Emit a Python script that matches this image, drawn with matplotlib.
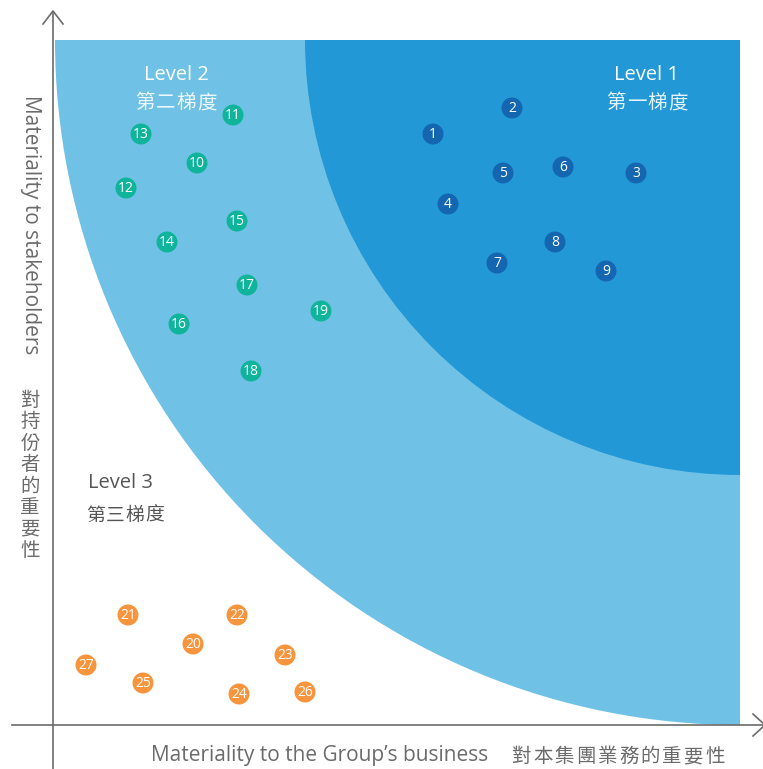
import matplotlib.pyplot as plt
from matplotlib.patches import Wedge, Circle

plt.rcParams['font.family'] = ['Open Sans', 'Noto Sans CJK TC', 'DejaVu Sans']

# issue positions (x = materiality to business, y = materiality to stakeholders)
level1_ids = [1, 2, 3, 4, 5, 6, 7, 8, 9]
level1_x = [380, 459, 583, 395, 450, 510, 444, 502, 553]
level1_y = [591, 617, 552, 521, 552, 558, 462, 483, 454]

level2_ids = [10, 11, 12, 13, 14, 15, 16, 17, 18, 19]
level2_x = [144, 180, 73, 88, 114, 184, 126, 194, 198, 268]
level2_y = [562, 610, 537, 591, 483, 504, 401, 440, 354, 414]

level3_ids = [20, 21, 22, 23, 24, 25, 26, 27]
level3_x = [140, 75, 184, 232, 186, 90, 252, 33]
level3_y = [81, 110, 110, 70, 31, 42, 33, 60]

grey = '#6b6b6b'
fig = plt.figure(figsize=(7.63, 7.69), dpi=100)
ax = fig.add_axes([0, 0, 1, 1])
ax.set_xlim(-53, 710)
ax.set_ylim(-44, 725)
ax.axis('off')

# zones as quarter discs around the top-right corner
corner = (687, 685)
ax.add_patch(Wedge(corner, 685, 180, 270, color='#6fc2e5', lw=0, zorder=1))
ax.add_patch(Wedge(corner, 435, 180, 270, color='#2299d6', lw=0, zorder=2))

# axes with open arrow heads
ax.plot([0, 0], [-44, 713], color=grey, lw=1.2, zorder=3)
ax.plot([-41, 711], [0, 0], color=grey, lw=1.2, zorder=3)
ax.plot([-10, 0, 10], [701, 714, 701], color=grey, lw=1.2, zorder=3)
ax.plot([700, 712, 700], [11, 0, -11], color=grey, lw=1.2, zorder=3, clip_on=False)


def draw_points(xs, ys, ids, color):
    for x, y, n in zip(xs, ys, ids):
        ax.add_patch(Circle((x, y), 10.5, color=color, lw=0, zorder=4))
        ax.text(x, y - 0.5, str(n), color='white', fontsize=10, ha='center',
                va='center', zorder=5)


def cjk_text(x, y, s, step, vertical=False, **kw):
    # CJK glyphs are square, so lay them out one by one with extra tracking
    n = len(s)
    for i, ch in enumerate(s):
        off = (i - (n - 1) / 2) * step
        if vertical:
            ax.text(x, y - off, ch, ha='center', va='center', **kw)
        else:
            ax.text(x + off, y, ch, ha='center', va='center', **kw)


draw_points(level1_x, level1_y, level1_ids, '#1466b1')
draw_points(level2_x, level2_y, level2_ids, '#10b49b')
draw_points(level3_x, level3_y, level3_ids, '#f7953e')

# zone labels
ax.text(594, 650, 'Level 1', color='white', fontsize=14.5, weight='medium',
        ha='center', va='center')
cjk_text(594, 622, '第一梯度', 20.5, color='#e6f3fa', fontsize=14, weight='light')
ax.text(123, 650, 'Level 2', color='white', fontsize=14.5, weight='medium',
        ha='center', va='center')
cjk_text(123, 622, '第二梯度', 20.5, color='#eef8fc', fontsize=14, weight='light')
ax.text(68, 242, 'Level 3', color='#555555', fontsize=14.5, weight='medium',
        ha='center', va='center')
cjk_text(72, 209, '第三梯度', 20, color='#555555', fontsize=13.5, weight='light')

# axis titles
ax.text(-23, 500, 'Materiality to stakeholders', color=grey, fontsize=15,
        rotation=-90, ha='center', va='center')
cjk_text(-23, 249, '對持份者的重要性', 21.5, vertical=True, color=grey,
         fontsize=14, weight='light')
ax.text(267, -30, 'Materiality to the Group’s business', color=grey, fontsize=15,
        ha='center', va='center')
cjk_text(565, -32, '對本集團業務的重要性', 21.5, color=grey, fontsize=14,
         weight='light')

fig.savefig('out.png', dpi=100)
